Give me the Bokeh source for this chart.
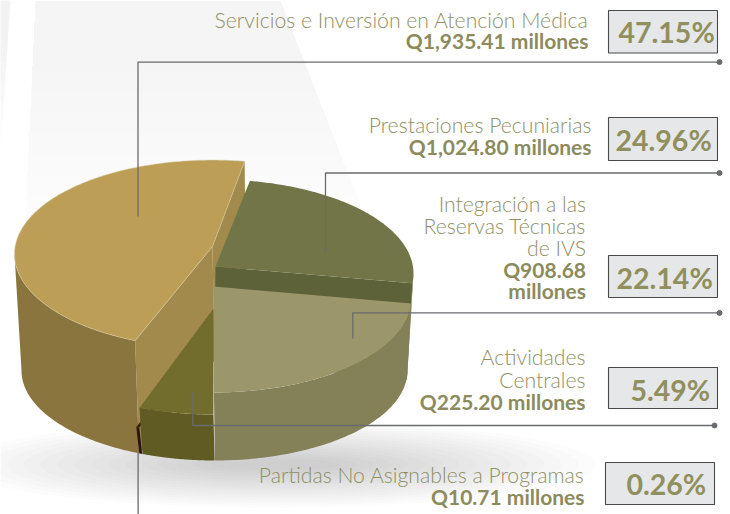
import numpy as np
from bokeh.plotting import figure
from bokeh.models import Range1d
from bokeh.core.properties import value
from bokeh.embed import file_html
from bokeh.resources import INLINE

# ---- data
categories = ["Servicios e Inversión en Atención Médica", "Prestaciones Pecuniarias",
              "Integración a las Reservas Técnicas de IVS", "Actividades Centrales",
              "Partidas No Asignables a Programas"]
amounts = [1935.41, 1024.80, 908.68, 225.20, 10.71]
percents = [47.15, 24.96, 22.14, 5.49, 0.26]
pct_labels = ["47.15%", "24.96%", "22.14%", "5.49%", "0.26%"]
name_lines = [["Servicios e Inversión en Atención Médica"], ["Prestaciones Pecuniarias"],
              ["Integración a las", "Reservas Técnicas", "de IVS"], ["Actividades", "Centrales"],
              ["Partidas No Asignables a Programas"]]
amount_lines = [["Q1,935.41 millones"], ["Q1,024.80 millones"], ["Q908.68", "millones"],
                ["Q225.20 millones"], ["Q10.71 millones"]]

# ---- look
TXT, TXTB, PCT = "#8f8f66", "#8c8b5d", "#90905f"
LEAD = "#6a6b6e"
FONT = "Lato"
LIGHT = "'Lato Light', Lato"
top_col = ["#BC9E57", "#727548", "#9C976A", "#726D2C", "#3a2012"]
side_col = ["#8B753F", "#5E6239", "#848057", "#5F5B22", "#2A1510"]
face_col = "#A28A4C"
# perspective stretch of each slice's sweep and where each starts (deg, from +x)
stretch = [0.98, 0.957, 1.09, 1.11, 1.0]
start = [247.0, 80.0, -3.0, -90.0, -112.0]
top_cx = [212, 215, 213, 213, 213]
top_cy = [253.6, 273, 298, 320, 340]
apex_dy = [-7.6, -7, -12, -12, -10]
RX, RY = 198, 94
BCX, BCY, BRX, BRY = 214, 370, 193, 90


def pt(cx, cy, rx, ry, deg):
    a = np.radians(deg)
    return cx + rx * np.cos(a), cy - ry * np.sin(a)


def arc(cx, cy, rx, ry, a0, a1, n=80):
    a = np.radians(np.linspace(a0, a1, n))
    return cx + rx * np.cos(a), cy - ry * np.sin(a)


p = figure(width=730, height=514, output_backend="svg", toolbar_location=None,
           x_range=Range1d(0, 730), y_range=Range1d(514, 0), min_border=0)
p.axis.visible = False
p.grid.visible = False
p.outline_line_color = None
p.background_fill_color = "#ffffff"
p.border_fill_color = "#ffffff"

# faint light beams behind the pie, fading downwards
for yb in np.linspace(70, 260, 10):
    p.patch([35, 280, 280 + 0.39 * yb, 35 - 0.046 * yb], [0, 0, yb, yb],
            fill_color="#808285", fill_alpha=0.0085, line_color=None)
for yb in np.linspace(60, 160, 6):
    p.patch([0, 10, 10 - 0.066 * yb, 0], [0, 0, yb, yb],
            fill_color="#808285", fill_alpha=0.018, line_color=None)

# soft ground shadow
for w, h in zip(np.linspace(640, 130, 16), np.linspace(86, 12, 16)):
    p.ellipse(x=[275], y=[464], width=[w], height=[h], fill_color="#5f6266", fill_alpha=0.02, line_color=None)

# every slice runs clockwise from its start, sweep from its percentage
sweep = [pc * 3.6 * s for pc, s in zip(percents, stretch)]
for i in [0, 1, 2, 4, 3]:
    cx, cy = top_cx[i], top_cy[i]
    a0 = start[i]
    a1 = a0 - sweep[i]
    ax, ay = cx, cy + apex_dy[i]
    base_ay = BCY - 10
    # radial faces
    if i == 0:
        for ang in (a0, a1):
            ex, ey = pt(cx, cy, RX, RY, ang)
            bx, by = pt(BCX, BCY, BRX, BRY, ang)
            p.patch([ax, ex, bx, BCX], [ay, ey, by, base_ay], fill_color=face_col, line_color=None)
    if i == 1:
        ex, ey = pt(cx, cy, RX, RY, a1)
        bx, by = pt(BCX, BCY, BRX, BRY, a1)
        p.patch([ax, ex, bx, BCX], [ay, ey, by, base_ay], fill_color=side_col[1], line_color=None)
    # outer wall (only the near half shows)
    if i == 0:
        w0, w1 = 180, a0
    elif i == 1:
        w0, w1 = a1, 0
    else:
        w0, w1 = a0, a1
    tx, ty = arc(cx, cy, RX, RY, w0, w1)
    bx, by = arc(BCX, BCY, BRX, BRY, w0, w1)
    p.patch(list(tx) + list(bx[::-1]), list(ty) + list(by[::-1]), fill_color=side_col[i], line_color=None)
    # top face
    tx, ty = arc(cx, cy, RX, RY, a0, a1, 160)
    p.patch([ax] + list(tx), [ay] + list(ty), fill_color=top_col[i],
            line_color="#d8cfa8" if i == 0 else None, line_width=0.5)

# leader lines
lead_x = [[137.5, 137.5, 719], [325, 325, 719], [352.3, 352.3, 719], [192.4, 192.4, 714], [137.6, 137.6]]
lead_y = [[216, 61.6, 61.6], [251, 172.5, 172.5], [338, 312.4, 312.4], [391.5, 425, 425], [452, 514]]
p.multi_line(lead_x, lead_y, line_color=LEAD, line_width=1.3)
p.scatter([xs[-1] for xs in lead_x[:4]], [ys[-1] for ys in lead_y[:4]], size=5, color=LEAD)

# percentage boxes
box_l = [608, 608, 608, 608, 605]
box_r = [717, 717, 717, 717, 714]
box_t = [10, 117, 255, 367, 462]
box_b = [52.5, 160, 297, 408, 504]
p.quad(left=box_l, right=box_r, top=box_t, bottom=box_b, fill_color="#e6e7e8",
       line_color="#4a4a4a", line_width=1.1)
p.text(x=[618, 615, 616, 630, 626], y=[31, 139.5, 277.5, 389, 483], text=pct_labels,
       text_font=value(FONT), text_font_style="bold", text_font_size="28.5px", text_color=PCT,
       text_align="left", text_baseline="middle")

# labels
right = [588, 591, 585.5, 585, 584]
name_y = [[19], [124], [203, 225, 247], [356, 379], [474]]
amt_y = [[39.5], [145.5], [268.5, 289.5], [400.5], [495.5]]
nx, ny, nt, bx, by, bt = [], [], [], [], [], []
for k in range(5):
    for t, y in zip(name_lines[k], name_y[k]):
        nx.append(right[k]); ny.append(y); nt.append(t)
    for t, y in zip(amount_lines[k], amt_y[k]):
        bx.append(right[k]); by.append(y); bt.append(t)
p.text(x=nx, y=ny, text=nt, text_font=value(LIGHT), text_font_size="21.2px", text_color=TXT,
       text_align="right", text_baseline="middle")
p.text(x=bx, y=by, text=bt, text_font=value(FONT), text_font_style="bold", text_font_size="21px",
       text_color=TXTB, text_align="right", text_baseline="middle")

open("out.html", "w").write(file_html(p, INLINE))
